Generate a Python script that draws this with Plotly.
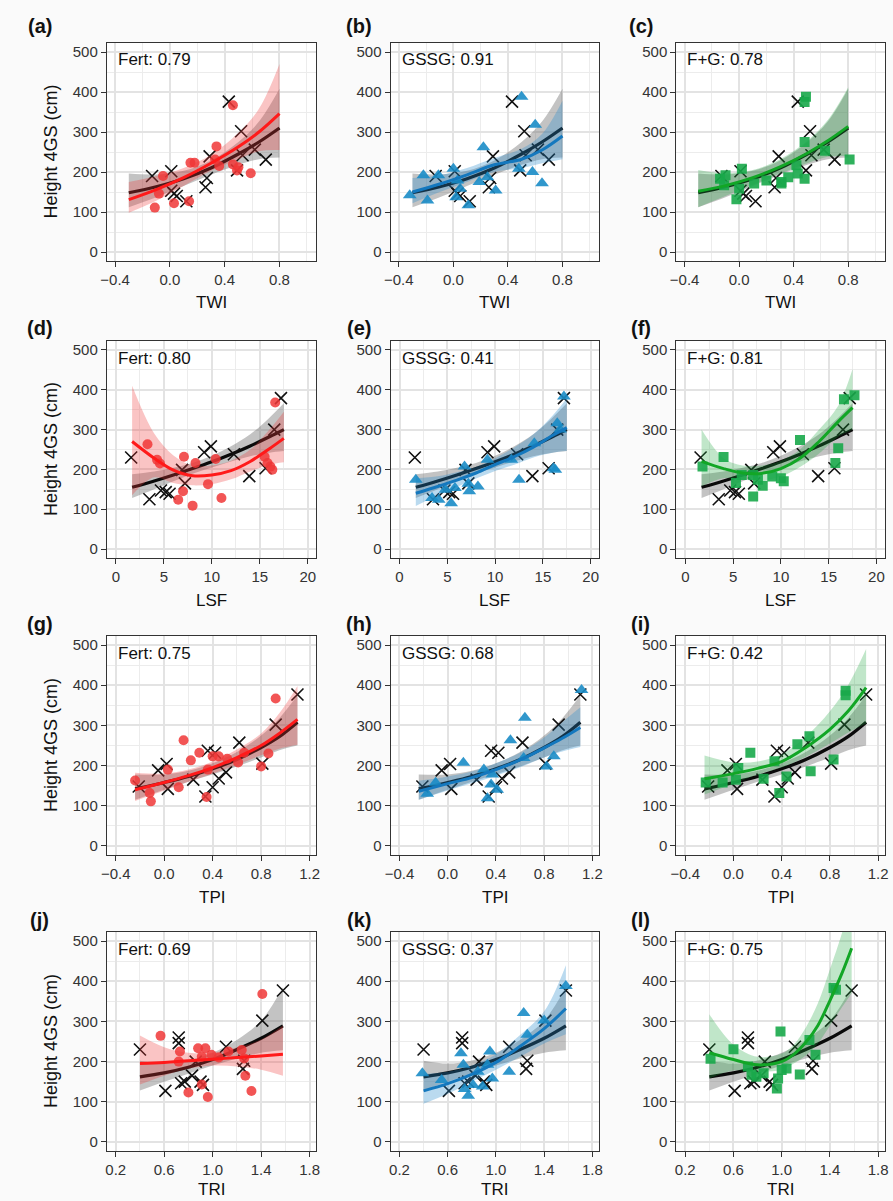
import plotly.graph_objects as go

FONT = "Liberation Sans, Arial, sans-serif"

# ---------------- Row 1 : TWI ----------------
TWI_CTRL_X = [-0.13, 0.01, 0.01, 0.03, 0.05, 0.12, 0.26, 0.27, 0.29, 0.43, 0.49, 0.52, 0.53, 0.62, 0.70]
TWI_CTRL_H = [190, 202, 153, 146, 140, 127, 162, 185, 239, 376, 204, 302, 242, 256, 231]
TWI_FIT_X = [-0.3, -0.1, 0.1, 0.3, 0.5, 0.65, 0.8]
TWI_CTRL_FIT = [148, 163, 183, 210, 245, 275, 310]
TWI_CTRL_LO = [112, 137, 165, 193, 218, 232, 236]
TWI_CTRL_HI = [196, 194, 203, 229, 275, 326, 408]

FERT_TWI_X = [-0.11, -0.08, -0.05, 0.03, 0.14, 0.15, 0.18, 0.33, 0.34, 0.36, 0.46, 0.46, 0.49, 0.50, 0.59]
FERT_TWI_H = [111, 146, 190, 122, 127, 223, 223, 231, 264, 215, 367, 219, 204, 212, 197]
FERT_TWI_FIT = [131, 156, 186, 222, 263, 300, 346]
FERT_TWI_LO = [98, 128, 165, 203, 232, 252, 255]
FERT_TWI_HI = [175, 190, 210, 243, 298, 358, 470]

GSSG_TWI_X = [-0.32, -0.22, -0.19, -0.11, 0.0, 0.03, 0.05, 0.02, 0.11, 0.19, 0.22, 0.25, 0.31, 0.48, 0.50, 0.58, 0.60, 0.65]
GSSG_TWI_H = [142, 192, 129, 192, 208, 179, 158, 137, 117, 175, 262, 187, 154, 208, 388, 200, 318, 172]
GSSG_TWI_FIT = [150, 170, 193, 218, 232, 255, 290]
GSSG_TWI_LO = [122, 150, 175, 200, 210, 222, 232]
GSSG_TWI_HI = [185, 192, 210, 235, 258, 295, 378]

FG_TWI_X = [-0.14, -0.11, -0.10, -0.02, 0.00, 0.02, 0.11, 0.20, 0.31, 0.31, 0.36, 0.42, 0.43, 0.48, 0.48, 0.48, 0.49, 0.63, 0.81]
FG_TWI_H = [183, 167, 192, 132, 158, 208, 171, 179, 171, 175, 187, 217, 196, 183, 275, 375, 388, 253, 231]
FG_TWI_FIT = [152, 166, 186, 213, 247, 278, 314]
FG_TWI_LO = [112, 140, 168, 196, 222, 238, 240]
FG_TWI_HI = [205, 197, 205, 232, 278, 330, 412]

# ---------------- Row 2 : LSF ----------------
LSF_CTRL_X = [1.6, 3.5, 4.7, 5.2, 5.6, 6.9, 7.2, 9.2, 9.9, 12.3, 13.9, 15.6, 16.5, 17.2]
LSF_CTRL_H = [230, 125, 147, 143, 139, 199, 165, 243, 258, 238, 183, 203, 300, 379]
LSF_FIT_X = [1.7, 4, 6, 8, 10, 12, 14, 16, 17.5]
LSF_CTRL_FIT = [155, 171, 186, 202, 219, 238, 259, 282, 300]
LSF_CTRL_LO = [128, 150, 170, 189, 205, 220, 233, 242, 246]
LSF_CTRL_HI = [188, 195, 204, 216, 234, 258, 288, 330, 366]

FERT_LSF_X = [3.3, 4.3, 4.6, 6.5, 7.0, 7.1, 8.0, 8.3, 9.6, 10.4, 11.0, 15.5, 15.8, 16.1, 16.3, 16.6]
FERT_LSF_H = [263, 224, 215, 124, 145, 232, 109, 216, 163, 226, 128, 232, 216, 207, 199, 368]
FERT_LSF_FIT = [270, 228, 198, 184, 186, 197, 220, 252, 278]
FERT_LSF_LO = [135, 180, 166, 160, 163, 175, 195, 212, 218]
FERT_LSF_HI = [410, 290, 235, 210, 210, 222, 250, 300, 345]

GSSG_LSF_X = [1.7, 3.4, 4.1, 4.8, 5.4, 5.8, 6.8, 7.2, 7.3, 8.2, 9.2, 11.7, 12.5, 14.1, 16.1, 16.3, 16.5, 16.8, 17.2]
GSSG_LSF_H = [174, 128, 124, 149, 115, 153, 207, 164, 145, 157, 224, 224, 174, 266, 203, 199, 316, 300, 383]
GSSG_LSF_FIT = [140, 157, 173, 191, 212, 232, 256, 285, 305]
GSSG_LSF_LO = [108, 135, 156, 177, 196, 212, 230, 242, 246]
GSSG_LSF_HI = [178, 183, 193, 206, 228, 255, 288, 335, 378]

FG_LSF_X = [1.8, 4.0, 5.3, 5.9, 7.1, 7.1, 7.6, 8.1, 9.1, 10.0, 10.3, 12.0, 15.7, 16.0, 16.6, 17.7]
FG_LSF_H = [207, 231, 166, 186, 186, 132, 174, 159, 182, 178, 170, 274, 216, 253, 376, 386]
FG_LSF_FIT = [220, 202, 191, 190, 202, 228, 270, 320, 355]
FG_LSF_LO = [158, 178, 174, 172, 182, 206, 240, 282, 300]
FG_LSF_HI = [300, 228, 210, 210, 222, 250, 300, 360, 452]

# ---------------- Row 3 : TPI ----------------
TPI_CTRL_X = [-0.21, -0.05, 0.02, 0.03, 0.24, 0.34, 0.36, 0.40, 0.42, 0.45, 0.51, 0.62, 0.81, 0.92, 1.10]
TPI_CTRL_H = [148, 188, 204, 142, 165, 123, 237, 146, 232, 168, 183, 257, 205, 302, 377]
TPI_FIT_X = [-0.24, 0.0, 0.2, 0.4, 0.6, 0.8, 0.95, 1.1]
TPI_CTRL_FIT = [142, 158, 173, 192, 215, 245, 272, 308]
TPI_CTRL_LO = [115, 140, 160, 178, 198, 220, 238, 250]
TPI_CTRL_HI = [178, 178, 187, 206, 234, 275, 318, 375]

FERT_TPI_X = [-0.24, -0.12, -0.11, 0.03, 0.12, 0.16, 0.22, 0.29, 0.35, 0.36, 0.40, 0.45, 0.52, 0.61, 0.66, 0.80, 0.86, 0.92]
FERT_TPI_H = [163, 132, 111, 190, 146, 263, 213, 232, 122, 190, 223, 223, 217, 208, 232, 198, 230, 367]
FERT_TPI_FIT = [140, 158, 175, 195, 220, 250, 280, 315]
FERT_TPI_LO = [112, 138, 160, 180, 202, 226, 242, 252]
FERT_TPI_HI = [182, 180, 190, 210, 240, 280, 330, 398]

GSSG_TPI_X = [-0.17, -0.10, 0.13, 0.30, 0.33, 0.36, 0.37, 0.41, 0.52, 0.63, 0.64, 0.82, 0.88, 1.11]
GSSG_TPI_H = [130, 157, 207, 190, 119, 153, 178, 140, 263, 219, 319, 198, 223, 388]
GSSG_TPI_FIT = [136, 155, 170, 190, 214, 244, 268, 295]
GSSG_TPI_LO = [115, 138, 156, 175, 196, 220, 235, 246]
GSSG_TPI_HI = [162, 173, 185, 206, 232, 270, 308, 345]

FG_TPI_X = [-0.23, -0.09, 0.02, 0.04, 0.14, 0.25, 0.34, 0.38, 0.44, 0.53, 0.63, 0.64, 0.83, 0.93, 0.93]
FG_TPI_H = [158, 158, 165, 194, 232, 167, 211, 132, 173, 253, 273, 186, 215, 386, 375]
FG_TPI_FIT = [167, 180, 193, 210, 245, 290, 335, 394]
FG_TPI_LO = [128, 155, 178, 195, 222, 255, 282, 305]
FG_TPI_HI = [225, 208, 210, 228, 272, 335, 400, 490]

# ---------------- Row 4 : TRI ----------------
TRI_CTRL_X = [0.40, 0.61, 0.72, 0.72, 0.74, 0.77, 0.83, 0.86, 0.90, 0.92, 1.11, 1.25, 1.26, 1.41, 1.58]
TRI_CTRL_H = [230, 127, 260, 246, 146, 150, 165, 200, 150, 142, 237, 182, 202, 302, 377]
TRI_FIT_X = [0.4, 0.6, 0.8, 1.0, 1.2, 1.4, 1.58]
TRI_CTRL_FIT = [162, 172, 186, 205, 230, 258, 289]
TRI_CTRL_LO = [128, 150, 170, 190, 208, 222, 228]
TRI_CTRL_HI = [202, 195, 203, 222, 254, 302, 385]

FERT_TRI_X = [0.57, 0.72, 0.73, 0.80, 0.88, 0.91, 0.91, 0.94, 0.96, 0.99, 1.05, 1.13, 1.24, 1.26, 1.27, 1.32, 1.41]
FERT_TRI_H = [264, 200, 225, 123, 233, 143, 212, 233, 112, 217, 210, 225, 229, 208, 165, 127, 368]
FERT_TRI_FIT = [195, 198, 202, 206, 210, 214, 218]
FERT_TRI_LO = [143, 165, 182, 190, 188, 180, 165]
FERT_TRI_HI = [265, 236, 222, 222, 235, 255, 290]

GSSG_TRI_X = [0.39, 0.55, 0.71, 0.73, 0.74, 0.77, 0.81, 0.85, 0.89, 0.93, 0.95, 0.97, 1.11, 1.23, 1.26, 1.40, 1.58]
GSSG_TRI_H = [171, 154, 221, 192, 132, 115, 142, 175, 138, 192, 225, 158, 175, 321, 267, 302, 388]
GSSG_TRI_FIT = [127, 145, 168, 198, 238, 282, 332]
GSSG_TRI_LO = [95, 120, 150, 180, 212, 245, 268]
GSSG_TRI_HI = [170, 175, 190, 218, 266, 325, 440]

FG_TRI_X = [0.41, 0.60, 0.72, 0.75, 0.79, 0.85, 0.96, 0.97, 0.99, 1.00, 1.04, 1.15, 1.23, 1.28, 1.43, 1.45]
FG_TRI_H = [207, 231, 188, 167, 162, 171, 133, 158, 275, 179, 183, 168, 254, 217, 383, 379]
FG_TRI_FIT_X = [0.4, 0.6, 0.8, 1.0, 1.1, 1.2, 1.3, 1.4, 1.5, 1.58]
FG_TRI_FIT = [222, 205, 192, 200, 218, 248, 290, 352, 420, 482]
FG_TRI_LO = [158, 178, 175, 180, 195, 215, 245, 290, 335, 370]
FG_TRI_HI = [318, 242, 212, 220, 242, 285, 345, 430, 520, 610]

ROW_VARS = ["TWI", "LSF", "TPI", "TRI"]
PANEL_LETTERS = ["(a)", "(b)", "(c)", "(d)", "(e)", "(f)", "(g)", "(h)", "(i)", "(j)", "(k)", "(l)"]
GROUP_NAMES = ["Fert", "GSSG", "F+G"]
R2_VALUES = [[0.79, 0.91, 0.78], [0.80, 0.41, 0.81], [0.75, 0.68, 0.42], [0.69, 0.37, 0.75]]
Y_TICKS = [0, 100, 200, 300, 400, 500]

# ---------------- layout geometry (pixels) ----------------
W, H = 893, 1201
COL_PX = [(101, 313), (388, 599), (677, 888)]
ROW_PX = [(43, 261), (341, 558), (636, 855), (932, 1151)]
LETTER_X = [33, 356, 641]
LETTER_Y = [26, 328, 624, 920]
XTITLE_Y = [303, 600, 897, 1189]

X_RANGES = [[-0.46, 1.07], [-0.93, 20.9], [-0.473, 1.257], [0.127, 1.857]]
X_TICK0 = [0, 0, 0, 0.2]
X_DTICK = [0.4, 5, 0.4, 0.4]
X_MINOR = [0.2, 2.5, 0.2, 0.2]
X_FMT = [".1f", "d", ".1f", ".1f"]

rows = [
    dict(cx=TWI_CTRL_X, ch=TWI_CTRL_H, fx=TWI_FIT_X, cf=TWI_CTRL_FIT, clo=TWI_CTRL_LO, chi=TWI_CTRL_HI,
         groups=[(FERT_TWI_X, FERT_TWI_H, TWI_FIT_X, FERT_TWI_FIT, FERT_TWI_LO, FERT_TWI_HI),
                 (GSSG_TWI_X, GSSG_TWI_H, TWI_FIT_X, GSSG_TWI_FIT, GSSG_TWI_LO, GSSG_TWI_HI),
                 (FG_TWI_X, FG_TWI_H, TWI_FIT_X, FG_TWI_FIT, FG_TWI_LO, FG_TWI_HI)]),
    dict(cx=LSF_CTRL_X, ch=LSF_CTRL_H, fx=LSF_FIT_X, cf=LSF_CTRL_FIT, clo=LSF_CTRL_LO, chi=LSF_CTRL_HI,
         groups=[(FERT_LSF_X, FERT_LSF_H, LSF_FIT_X, FERT_LSF_FIT, FERT_LSF_LO, FERT_LSF_HI),
                 (GSSG_LSF_X, GSSG_LSF_H, LSF_FIT_X, GSSG_LSF_FIT, GSSG_LSF_LO, GSSG_LSF_HI),
                 (FG_LSF_X, FG_LSF_H, LSF_FIT_X, FG_LSF_FIT, FG_LSF_LO, FG_LSF_HI)]),
    dict(cx=TPI_CTRL_X, ch=TPI_CTRL_H, fx=TPI_FIT_X, cf=TPI_CTRL_FIT, clo=TPI_CTRL_LO, chi=TPI_CTRL_HI,
         groups=[(FERT_TPI_X, FERT_TPI_H, TPI_FIT_X, FERT_TPI_FIT, FERT_TPI_LO, FERT_TPI_HI),
                 (GSSG_TPI_X, GSSG_TPI_H, TPI_FIT_X, GSSG_TPI_FIT, GSSG_TPI_LO, GSSG_TPI_HI),
                 (FG_TPI_X, FG_TPI_H, TPI_FIT_X, FG_TPI_FIT, FG_TPI_LO, FG_TPI_HI)]),
    dict(cx=TRI_CTRL_X, ch=TRI_CTRL_H, fx=TRI_FIT_X, cf=TRI_CTRL_FIT, clo=TRI_CTRL_LO, chi=TRI_CTRL_HI,
         groups=[(FERT_TRI_X, FERT_TRI_H, TRI_FIT_X, FERT_TRI_FIT, FERT_TRI_LO, FERT_TRI_HI),
                 (GSSG_TRI_X, GSSG_TRI_H, TRI_FIT_X, GSSG_TRI_FIT, GSSG_TRI_LO, GSSG_TRI_HI),
                 (FG_TRI_X, FG_TRI_H, FG_TRI_FIT_X, FG_TRI_FIT, FG_TRI_LO, FG_TRI_HI)]),
]

STYLE = [
    dict(symbol="circle", size=10, color="rgba(240,55,55,0.85)", line="#ff1a1a", band="rgba(240,60,60,0.30)"),
    dict(symbol="triangle-up", size=12, color="rgba(25,140,198,0.90)", line="#1478be", band="rgba(40,140,205,0.32)"),
    dict(symbol="square", size=10, color="rgba(24,168,74,0.90)", line="#12a626", band="rgba(30,165,60,0.28)"),
]

fig = go.Figure()
annotations = []
layout_axes = {}


def px_x(p):
    return p / W


def px_y(p):
    return 1 - p / H


n = 0
for r in range(4):
    rd = rows[r]
    for c in range(3):
        n += 1
        xa = "x" if n == 1 else f"x{n}"
        ya = "y" if n == 1 else f"y{n}"
        common = dict(xaxis=xa, yaxis=ya, showlegend=False, hoverinfo="skip")
        # control band + line + points
        fig.add_trace(go.Scatter(x=rd["fx"], y=rd["clo"], mode="lines",
                                 line=dict(width=0, shape="spline"), **common))
        fig.add_trace(go.Scatter(x=rd["fx"], y=rd["chi"], mode="lines", fill="tonexty",
                                 fillcolor="rgba(90,90,90,0.36)",
                                 line=dict(width=0, shape="spline"), **common))
        fig.add_trace(go.Scatter(x=rd["fx"], y=rd["cf"], mode="lines",
                                 line=dict(width=3.2, color="#0a0a0a", shape="spline"), **common))
        fig.add_trace(go.Scatter(x=rd["cx"], y=rd["ch"], mode="markers",
                                 marker=dict(symbol="x-thin", size=12, color="#111",
                                             line=dict(width=1.6, color="#111")), **common))
        gx, gh, gfx, gf, glo, ghi = rd["groups"][c]
        st = STYLE[c]
        fig.add_trace(go.Scatter(x=gfx, y=glo, mode="lines",
                                 line=dict(width=0, shape="spline"), **common))
        fig.add_trace(go.Scatter(x=gfx, y=ghi, mode="lines", fill="tonexty", fillcolor=st["band"],
                                 line=dict(width=0, shape="spline"), **common))
        fig.add_trace(go.Scatter(x=gx, y=gh, mode="markers",
                                 marker=dict(symbol=st["symbol"], size=st["size"], color=st["color"],
                                             line=dict(width=0)), **common))
        fig.add_trace(go.Scatter(x=gfx, y=gf, mode="lines",
                                 line=dict(width=3, color=st["line"], shape="spline"), **common))

        x0, x1 = COL_PX[c]
        y0, y1 = ROW_PX[r]
        axname = "xaxis" if n == 1 else f"xaxis{n}"
        ayname = "yaxis" if n == 1 else f"yaxis{n}"
        base = dict(showline=True, linecolor="#333", linewidth=1.2, mirror=True,
                    ticks="outside", ticklen=5, tickwidth=1.2, tickcolor="#333",
                    showgrid=True, gridcolor="#e3e3e3", gridwidth=1.5, zeroline=False,
                    tickfont=dict(family=FONT, size=15, color="#333"))
        layout_axes[axname] = dict(base, domain=[px_x(x0), px_x(x1)], anchor=ya,
                                   range=X_RANGES[r], tick0=X_TICK0[r], dtick=X_DTICK[r],
                                   tickformat=X_FMT[r],
                                   minor=dict(dtick=X_MINOR[r], tick0=X_TICK0[r], showgrid=True,
                                              gridcolor="#ececec", gridwidth=1.2))
        layout_axes[ayname] = dict(base, domain=[px_y(y1), px_y(y0)], anchor=xa,
                                   range=[-22.5, 522.5], tickvals=Y_TICKS,
                                   minor=dict(dtick=50, tick0=0, showgrid=True,
                                              gridcolor="#ececec", gridwidth=1.2))
        # group label
        annotations.append(dict(text=f"{GROUP_NAMES[c]}: {R2_VALUES[r][c]:.2f}", xref="paper", yref="paper",
                                x=px_x(x0 + 9), y=px_y(y0 + 17), xanchor="left", yanchor="middle",
                                showarrow=False, font=dict(family=FONT, size=17, color="#111")))
        # panel letter
        annotations.append(dict(text=f"<b>{PANEL_LETTERS[n - 1]}</b>", xref="paper", yref="paper",
                                x=px_x(LETTER_X[c]), y=px_y(LETTER_Y[r]), xanchor="center", yanchor="middle",
                                showarrow=False, font=dict(family=FONT, size=20, color="#111")))
        # x title
        annotations.append(dict(text=ROW_VARS[r], xref="paper", yref="paper",
                                x=px_x((x0 + x1) / 2), y=px_y(XTITLE_Y[r]), xanchor="center", yanchor="middle",
                                showarrow=False, font=dict(family=FONT, size=17, color="#111")))
    # y title on first column
    y0, y1 = ROW_PX[r]
    annotations.append(dict(text="Height 4GS (cm)", xref="paper", yref="paper", textangle=-90,
                            x=px_x(44), y=px_y((y0 + y1) / 2), xanchor="center", yanchor="middle",
                            showarrow=False, font=dict(family=FONT, size=18, color="#111")))

fig.update_layout(width=W, height=H, margin=dict(l=0, r=0, t=0, b=0),
                  paper_bgcolor="#fafafa", plot_bgcolor="#ffffff",
                  annotations=annotations, **layout_axes)

fig.write_html("out.html")
